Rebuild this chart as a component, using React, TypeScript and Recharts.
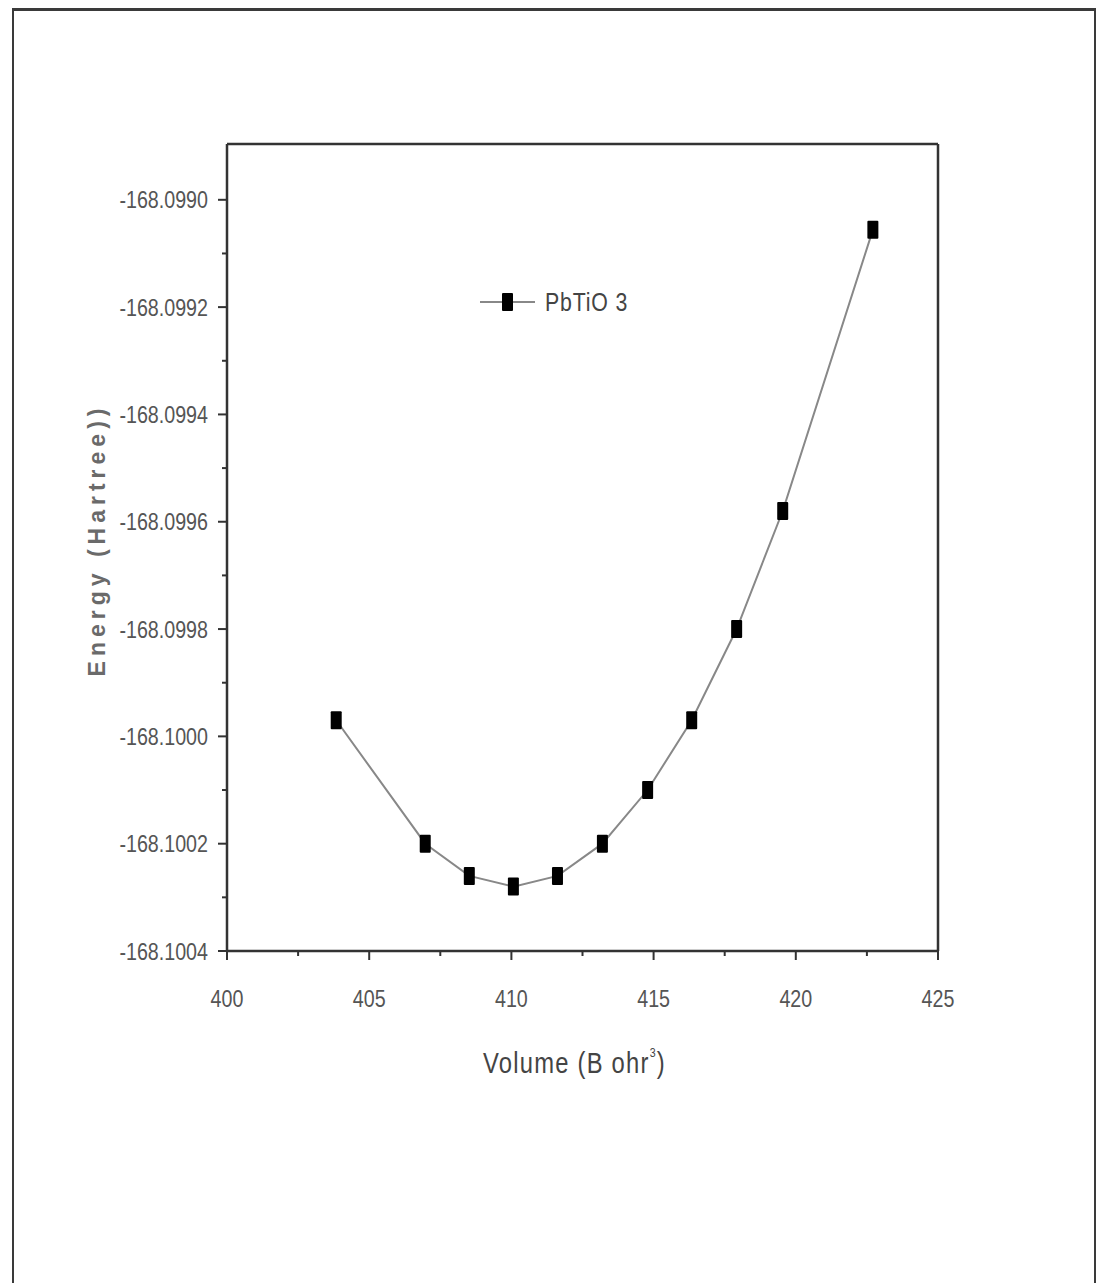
import { LineChart, Line, XAxis, YAxis, ReferenceLine, Legend } from 'recharts';

// Unit-cell volume (Bohr^3) and total energy (Hartree) for PbTiO3
const volume = [403.84, 406.97, 408.52, 410.07, 411.62, 413.2, 414.79, 416.34, 417.92, 419.54, 422.71];
const energy = [
  -168.09997, -168.1002, -168.10026, -168.10028, -168.10026, -168.1002,
  -168.1001, -168.09997, -168.0998, -168.09958, -168.099056,
];

const xMajor = [400, 405, 410, 415, 420, 425];
const xMinor = [402.5, 407.5, 412.5, 417.5, 422.5];
const yMajor = [-168.1004, -168.1002, -168.1, -168.0998, -168.0996, -168.0994, -168.0992, -168.099];
const yMinor = [-168.1003, -168.1001, -168.0999, -168.0997, -168.0995, -168.0993, -168.0991];

const X_DOMAIN: [number, number] = [400, 425];
const Y_DOMAIN: [number, number] = [-168.1004, -168.098896];

const seriesName = 'PbTiO 3';
const data = volume.map((v, i) => ({ volume: v, energy: energy[i] }));

const SANS = "'Liberation Sans', Arial, sans-serif";
const AXIS = '#333';
const TEXT = '#555';
const SQUEEZE = 0.82; // horizontal squeeze to get a narrow face out of Liberation Sans

// text drawn at (x, y) and compressed horizontally around that anchor
const Narrow = ({ x, y, children, ...rest }: any) => (
  <g transform={`translate(${x} ${y}) scale(${SQUEEZE} 1)`}>
    <text x={0} y={0} fontFamily={SANS} {...rest}>
      {children}
    </text>
  </g>
);

const XTick = (props: any) => {
  const { x, y, payload } = props;
  const major = xMajor.includes(payload.value);
  return (
    <g>
      <line x1={x} x2={x} y1={y} y2={y + (major ? 9 : 5)} stroke={AXIS} strokeWidth={2} />
      {major && (
        <Narrow x={x} y={y + 56} textAnchor="middle" fontSize={24} fill={TEXT}>
          {payload.value}
        </Narrow>
      )}
    </g>
  );
};

const YTick = (props: any) => {
  const { x, y, payload } = props;
  const major = yMajor.includes(payload.value);
  return (
    <g>
      <line x1={x} x2={x - (major ? 9 : 5)} y1={y} y2={y} stroke={AXIS} strokeWidth={2} />
      {major && (
        <Narrow x={x - 19} y={y} dy="0.36em" textAnchor="end" fontSize={24} fill={TEXT}>
          {payload.value.toFixed(4)}
        </Narrow>
      )}
    </g>
  );
};

const Marker = (props: any) => {
  const { cx, cy } = props;
  if (cx == null || cy == null) return null;
  return <rect x={cx - 5.5} y={cy - 9} width={11} height={18} rx={1} fill="#000" />;
};

const LegendBox = () => (
  <svg width={180} height={36}>
    <line x1={2} x2={57} y1={18} y2={18} stroke="#888" strokeWidth={2} />
    <rect x={24} y={9} width={11} height={18} rx={1} fill="#000" />
    <Narrow x={67} y={18} dy="0.36em" fontSize={26} fill="#444" letterSpacing={1}>
      {seriesName}
    </Narrow>
  </svg>
);

export default function App() {
  return (
    <div style={{ position: 'absolute', left: 0, top: 0, width: 1099, height: 1283, background: '#fff', overflow: 'hidden' }}>
      <div
        style={{
          position: 'absolute', left: 12, top: 8, width: 1080, height: 1300,
          borderTop: '3px solid #3a3a3a', borderLeft: '2.5px solid #3a3a3a', borderRight: '2.5px solid #3a3a3a',
        }}
      />
      <LineChart
        width={1099}
        height={1283}
        data={data}
        margin={{ top: 144, right: 161, bottom: 0, left: 0 }}
        style={{ position: 'absolute', left: 0, top: 0 }}
      >
        <XAxis
          dataKey="volume"
          type="number"
          domain={X_DOMAIN}
          ticks={[...xMajor, ...xMinor].sort((a, b) => a - b)}
          interval={0}
          height={332}
          tickSize={0}
          tickMargin={0}
          tickLine={false}
          tick={<XTick />}
          axisLine={{ stroke: AXIS, strokeWidth: 2.5 }}
          label={{
            content: (p: any) => {
              const vb = p.viewBox;
              return (
                <Narrow x={vb.x + vb.width / 2 - 8} y={vb.y + 122} textAnchor="middle" fontSize={29} fill="#444" letterSpacing={1.5}>
                  Volume (B ohr
                  <tspan fontSize={13} dy={-16}>3</tspan>
                  <tspan dy={16}>)</tspan>
                </Narrow>
              );
            },
          }}
        />
        <YAxis
          dataKey="energy"
          type="number"
          domain={Y_DOMAIN}
          ticks={[...yMajor, ...yMinor].sort((a, b) => a - b)}
          interval={0}
          width={227}
          tickSize={0}
          tickMargin={0}
          tickLine={false}
          tick={<YTick />}
          axisLine={{ stroke: AXIS, strokeWidth: 2.5 }}
          label={{
            content: (p: any) => {
              const vb = p.viewBox;
              const cx = vb.x + 97;
              const cy = vb.y + 396;
              return (
                <text
                  x={cx}
                  y={cy}
                  transform={`rotate(-90 ${cx} ${cy})`}
                  dy="0.36em"
                  textAnchor="middle"
                  fontFamily={SANS}
                  fontWeight="bold"
                  fontSize={23}
                  fill="#6a6a6a"
                  letterSpacing={5}
                >
                  Energy (Hartree))
                </text>
              );
            },
          }}
        />
        <ReferenceLine y={Y_DOMAIN[1]} stroke={AXIS} strokeWidth={2.5} ifOverflow="extendDomain" />
        <ReferenceLine x={X_DOMAIN[1]} stroke={AXIS} strokeWidth={2.5} ifOverflow="extendDomain" />
        <Legend
          layout="horizontal"
          verticalAlign="middle"
          align="center"
          content={<LegendBox />}
          wrapperStyle={{ position: 'absolute', left: 478, top: 284, width: 180, height: 36 }}
        />
        <Line
          dataKey="energy"
          name={seriesName}
          stroke="#888"
          strokeWidth={2}
          dot={<Marker />}
          activeDot={false}
          isAnimationActive={false}
        />
      </LineChart>
    </div>
  );
}
